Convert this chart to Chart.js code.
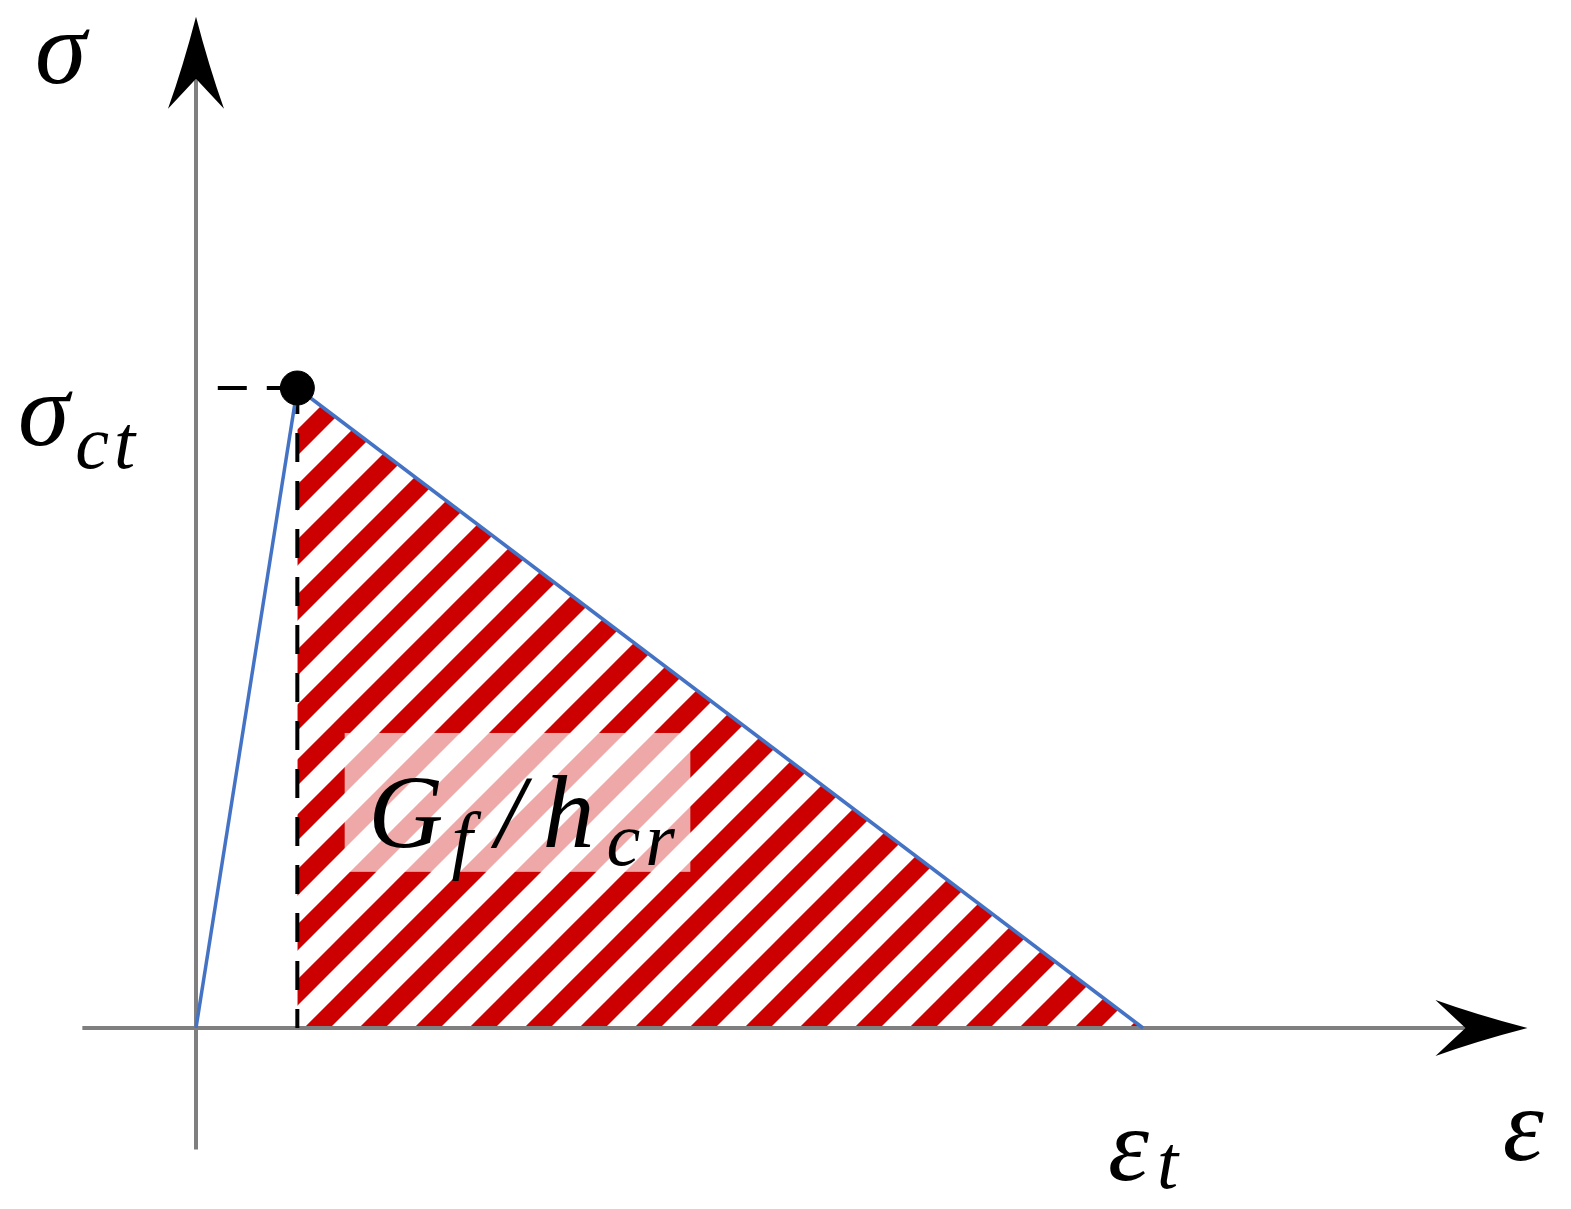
<!DOCTYPE html>
<html>
<head>
<meta charset="utf-8">
<script src="https://cdn.jsdelivr.net/npm/chart.js@4"></script>
<style>
html, body { margin: 0; padding: 0; background: #fff; }
#wrap { width: 1571px; height: 1209px; }
</style>
</head>
<body>
<div id="wrap"><canvas id="chart" width="1571" height="1209"></canvas></div>
<script>
// normalised values: strain at failure = 1, tensile strength = 1
const elasticStrain = [0, 0.107];
const elasticStress = [0, 1.0];
const softeningStrain = [0.107, 1.0];
const softeningStress = [1.0, 0];
const peakStrain = [0.107];
const peakStress = [1.0];
const guideVStrain = [0.107, 0.107];
const guideVStress = [0, 1.0];
const guideHStrain = [0.023, 0.107];
const guideHStress = [1.0, 1.0];

// axis extents (data units)
const xAxisFrom = -0.12, xAxisTo = 1.406;
const yAxisFrom = -0.19, yAxisTo = 1.58;

// text labels, [text, 'main' | 'sub', extra gap after]
const lblSigma = [['σ', 'main', 0]];
const lblSigmaCt = [['σ', 'main', 2], ['ct', 'sub', 0]];
const lblEnergy = [['G', 'main', 4], ['f', 'sub', 14], ['/', 'main', 14], ['h', 'main', 8], ['cr', 'sub', 0]];
const lblEpsT = [['ε', 'main', 4], ['t', 'sub', 0]];
const lblEps = [['ε', 'main', 0]];

const labelSpots = [
    { parts: lblSigma, x: -0.170, y: 1.477, drop: 0 },
    { parts: lblSigmaCt, x: -0.188, y: 0.911, drop: 23 },
    { parts: lblEnergy, x: 0.182, y: 0.283, drop: 18 },
    { parts: lblEpsT, x: 0.963, y: -0.237, drop: 8 },
    { parts: lblEps, x: 1.380, y: -0.206, drop: 0 }
];
const energyBox = { x1: 0.157, x2: 0.522, y1: 0.461, y2: 0.244 };

const pts = (xs, ys) => xs.map((v, i) => ({ x: v, y: ys[i] }));

function stripes() {
    const c = document.createElement('canvas');
    c.width = 55; c.height = 55;
    const g = c.getContext('2d');
    g.strokeStyle = '#cc0000';
    g.lineWidth = 18.5;
    g.beginPath();
    g.moveTo(35, -10); g.lineTo(-10, 35);
    g.moveTo(90, -10); g.lineTo(-10, 90);
    g.stroke();
    return g.createPattern(c, 'repeat');
}

function arrowHead(ctx, tx, ty, dx, dy) {
    const L = 92, W = 28, N = 62;
    const px = -dy, py = dx;
    ctx.beginPath();
    ctx.moveTo(tx, ty);
    ctx.quadraticCurveTo(tx - 0.55 * L * dx + 0.47 * W * px, ty - 0.55 * L * dy + 0.47 * W * py,
                         tx - L * dx + W * px, ty - L * dy + W * py);
    ctx.lineTo(tx - N * dx, ty - N * dy);
    ctx.lineTo(tx - L * dx - W * px, ty - L * dy - W * py);
    ctx.quadraticCurveTo(tx - 0.55 * L * dx - 0.47 * W * px, ty - 0.55 * L * dy - 0.47 * W * py, tx, ty);
    ctx.closePath();
    ctx.fillStyle = '#000';
    ctx.fill();
}

const mainFont = 'italic 104px "Liberation Serif"';
const subFont = 'italic 76px "Liberation Serif"';

function drawLabel(ctx, parts, x, y, drop) {
    let cx = x;
    parts.forEach(([t, kind, gap]) => {
        const sub = kind === 'sub';
        ctx.font = sub ? subFont : mainFont;
        if ('letterSpacing' in ctx) ctx.letterSpacing = sub ? '5px' : '0px';
        ctx.fillText(t, cx, sub ? y + drop : y);
        cx += ctx.measureText(t).width + 4 + gap;
    });
}

const diagram = {
    id: 'diagram',
    beforeDatasetsDraw(chart) {
        const { ctx, scales: { x, y } } = chart;
        const x0 = x.getPixelForValue(0), y0 = y.getPixelForValue(0);
        const xt = x.getPixelForValue(xAxisTo), yt = y.getPixelForValue(yAxisTo);
        ctx.save();
        ctx.strokeStyle = '#7f7f7f';
        ctx.lineWidth = 4;
        ctx.beginPath();
        ctx.moveTo(x.getPixelForValue(xAxisFrom), y0);
        ctx.lineTo(xt - 60, y0);
        ctx.moveTo(x0, y.getPixelForValue(yAxisFrom));
        ctx.lineTo(x0, yt + 60);
        ctx.stroke();
        arrowHead(ctx, xt, y0, 1, 0);
        arrowHead(ctx, x0, yt, 0, -1);
        ctx.restore();
    },
    afterDatasetsDraw(chart) {
        const { ctx, scales: { x, y } } = chart;
        ctx.save();
        const bx = x.getPixelForValue(energyBox.x1), by = y.getPixelForValue(energyBox.y1);
        ctx.fillStyle = 'rgba(255,255,255,0.66)';
        ctx.fillRect(bx, by, x.getPixelForValue(energyBox.x2) - bx, y.getPixelForValue(energyBox.y2) - by);
        ctx.fillStyle = '#000';
        ctx.textBaseline = 'alphabetic';
        labelSpots.forEach(s => drawLabel(ctx, s.parts, x.getPixelForValue(s.x), y.getPixelForValue(s.y), s.drop));
        ctx.restore();
    }
};

const blue = '#4472c4';

new Chart(document.getElementById('chart'), {
    type: 'scatter',
    data: {
        datasets: [
            { data: pts(peakStrain, peakStress), pointRadius: 17, pointBackgroundColor: '#000', pointBorderColor: '#000', showLine: false, order: 0 },
            { data: pts(softeningStrain, softeningStress), showLine: true, borderColor: blue, borderWidth: 3.5, pointRadius: 0,
              fill: 'origin', backgroundColor: stripes(), order: 1 },
            { data: pts(elasticStrain, elasticStress), showLine: true, borderColor: blue, borderWidth: 3.5, pointRadius: 0, order: 1 },
            { data: pts(guideVStrain, guideVStress), showLine: true, borderColor: '#000', borderWidth: 4, borderDash: [29, 19], borderDashOffset: 10, pointRadius: 0, order: 2 },
            { data: pts(guideHStrain, guideHStress), showLine: true, borderColor: '#000', borderWidth: 4, borderDash: [29, 20], pointRadius: 0, order: 2 }
        ]
    },
    options: {
        responsive: false,
        animation: false,
        layout: { padding: 0, autoPadding: false },
        scales: {
            x: { type: 'linear', display: false, min: -0.20697, max: 1.45195 },
            y: { type: 'linear', display: false, min: -0.28281, max: 1.60625 }
        },
        plugins: {
            legend: { display: false },
            tooltip: { enabled: false },
            filler: { drawTime: 'beforeDraw' }
        }
    },
    plugins: [diagram]
});
</script>
</body>
</html>
